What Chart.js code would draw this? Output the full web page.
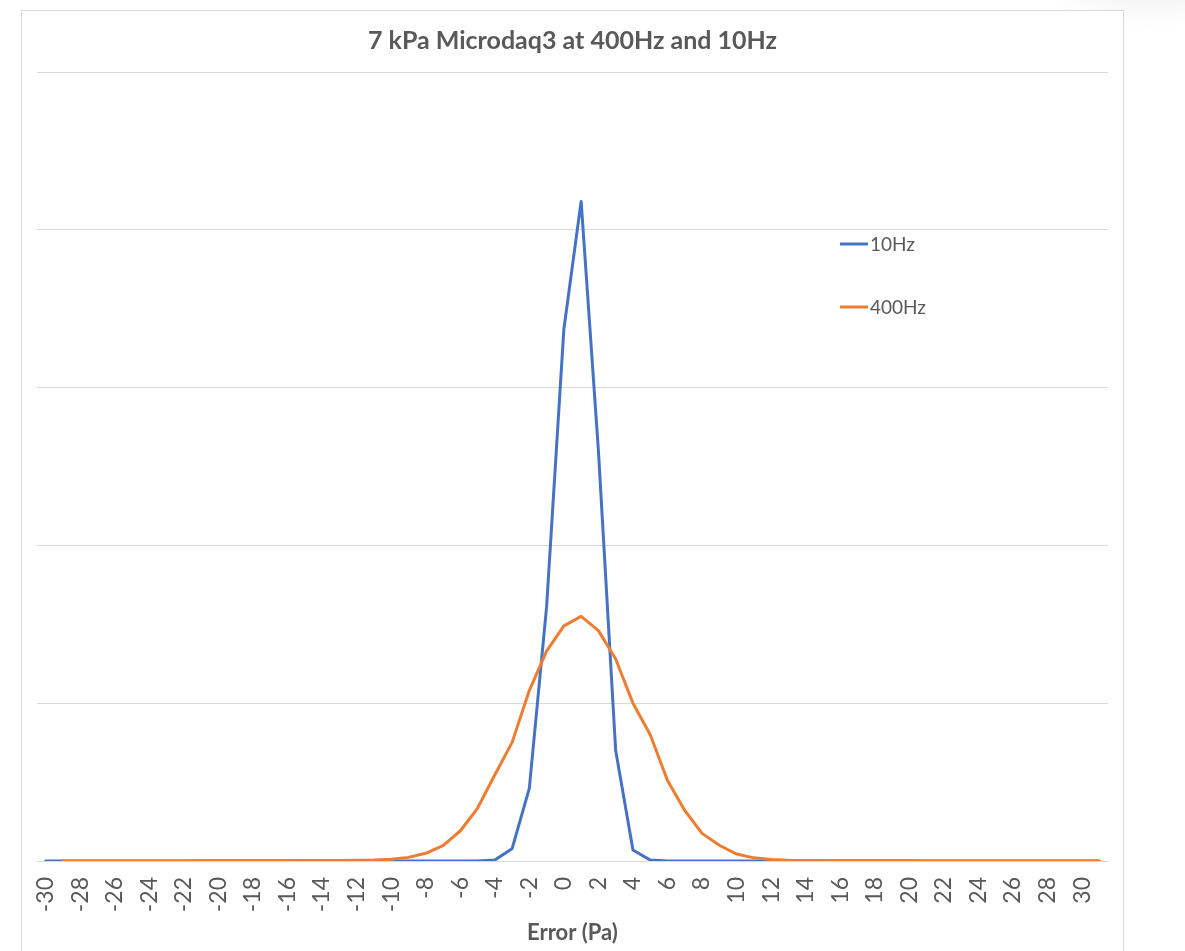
<!DOCTYPE html>
<html>
<head>
<meta charset="utf-8">
<title>7 kPa Microdaq3 at 400Hz and 10Hz</title>
<script src="https://cdn.jsdelivr.net/npm/chart.js@4.4.0/dist/chart.umd.min.js"></script>
<style>
  html, body { margin: 0; padding: 0; background: #fff; }
  body { width: 1185px; height: 951px; position: relative; overflow: hidden; }
  #shade {
    position: absolute; left: 1040px; top: -60px; width: 220px; height: 90px;
    background: radial-gradient(ellipse at center, rgba(0,0,0,0.06) 0%, rgba(0,0,0,0) 70%);
  }
  #frame {
    position: absolute; left: 21px; top: 10px; width: 1101px; height: 960px;
    border: 1px solid #d9d9d9; background: #fff;
  }
  #wrap { position: absolute; left: 0; top: 0; width: 1185px; height: 951px; }
  #errorChart { display: block; }
</style>
</head>
<body>
<div id="shade"></div>
<div id="frame"></div>
<div id="wrap"><canvas id="errorChart" width="1185" height="951"></canvas></div>
<script>
// Error categories -30 .. 31 Pa
const errors = [];
for (let e = -30; e <= 31; e++) errors.push(String(e));

// 10Hz series (one value per error bin)
const hz10 = [
  0, 0, 0, 0, 0, 0, 0, 0, 0, 0,            // -30 .. -21
  0, 0, 0, 0, 0, 0, 0, 0, 0, 0,            // -20 .. -11
  0, 0, 0, 0, 0, 0, 0.006, 0.077, 0.46, 1.61, // -10 .. -1
  3.37, 4.18, 2.60, 0.70, 0.07, 0.006, 0, 0, 0, 0, // 0 .. 9
  0, 0, 0, 0, 0, 0, 0, 0, 0, 0,            // 10 .. 19
  0, 0, 0, 0, 0, 0, 0, 0, 0, 0,            // 20 .. 29
  0, 0                                     // 30 .. 31
];

// 400Hz series (no value in the -30 bin)
const hz400 = [
  null, 0, 0, 0, 0, 0, 0, 0, 0, 0.001,               // -30 .. -21
  0.001, 0.001, 0.001, 0.001, 0.002, 0.003, 0.003, 0.003, 0.004, 0.006, // -20 .. -11
  0.011, 0.023, 0.049, 0.097, 0.19, 0.334, 0.545, 0.75, 1.08, 1.33,     // -10 .. -1
  1.49, 1.55, 1.46, 1.28, 1.0, 0.80, 0.51, 0.32, 0.175, 0.10,          // 0 .. 9
  0.044, 0.02, 0.01, 0.005, 0.003, 0.002, 0.002, 0.002, 0.002, 0.001,   // 10 .. 19
  0.001, 0, 0, 0, 0, 0, 0, 0, 0, 0,                                     // 20 .. 29
  0, 0                                                                  // 30 .. 31
];

const seriesNames = ["10Hz", "400Hz"];
const seriesColors = ["#4472C4", "#ED7D31"];

const textColor = "#595959";
const gridColor = "#d9d9d9";

// legend drawn inside the plot area, like the spreadsheet original
const innerLegend = {
  id: "innerLegend",
  afterDatasetsDraw(chart) {
    const ctx = chart.ctx;
    const rows = [244, 307];
    ctx.save();
    ctx.font = "19px Lato";
    ctx.textBaseline = "middle";
    ctx.textAlign = "left";
    seriesNames.forEach((name, i) => {
      ctx.strokeStyle = seriesColors[i];
      ctx.lineWidth = 3;
      ctx.beginPath();
      ctx.moveTo(840, rows[i]);
      ctx.lineTo(868, rows[i]);
      ctx.stroke();
      ctx.fillStyle = textColor;
      ctx.fillText(name, 870, rows[i] + 1);
    });
    ctx.restore();
  },
};

const ctx = document.getElementById("errorChart").getContext("2d");
const errorChart = new Chart(ctx, {
  type: "line",
  data: {
    labels: errors,
    datasets: [
      {
        label: seriesNames[0],
        data: hz10,
        borderColor: seriesColors[0],
        backgroundColor: seriesColors[0],
        borderWidth: 3,
        borderJoinStyle: "round",
        borderCapStyle: "round",
        pointRadius: 0,
        tension: 0,
        order: 1,
      },
      {
        label: seriesNames[1],
        data: hz400,
        borderColor: seriesColors[1],
        backgroundColor: seriesColors[1],
        borderWidth: 3,
        borderJoinStyle: "round",
        borderCapStyle: "round",
        pointRadius: 0,
        tension: 0,
        order: 0,
      },
    ],
  },
  options: {
    responsive: false,
    animation: false,
    layout: { padding: { left: 37, right: 77, top: 0, bottom: 0 } },
    plugins: {
      legend: { display: false },
      tooltip: { enabled: false },
      title: {
        display: true,
        text: "7 kPa Microdaq3 at 400Hz and 10Hz",
        color: textColor,
        font: { family: "Lato", size: 25, weight: "bold" },
        padding: { top: 26, bottom: 16 },
      },
    },
    scales: {
      x: {
        offset: true,
        grid: { display: false, drawTicks: false },
        border: { display: true, color: gridColor, width: 1 },
        ticks: {
          autoSkip: false,
          minRotation: 90,
          maxRotation: 90,
          padding: 16,
          color: textColor,
          font: { family: "Lato", size: 23 },
          callback: function (value) {
            const lab = this.getLabelForValue(value);
            return Number(lab) % 2 === 0 ? lab : "";
          },
        },
        title: {
          display: true,
          text: "Error (Pa)",
          color: textColor,
          font: { family: "Lato", size: 22, weight: "bold" },
          padding: { top: 4, bottom: 5 },
        },
        afterFit: (scale) => { scale.height = 90; },
      },
      y: {
        min: 0,
        max: 5,
        ticks: { display: false, stepSize: 1 },
        grid: { color: gridColor, lineWidth: 1, drawTicks: false },
        border: { display: false },
        afterFit: (scale) => { scale.width = 0; },
      },
    },
  },
  plugins: [innerLegend],
});
</script>
</body>
</html>
